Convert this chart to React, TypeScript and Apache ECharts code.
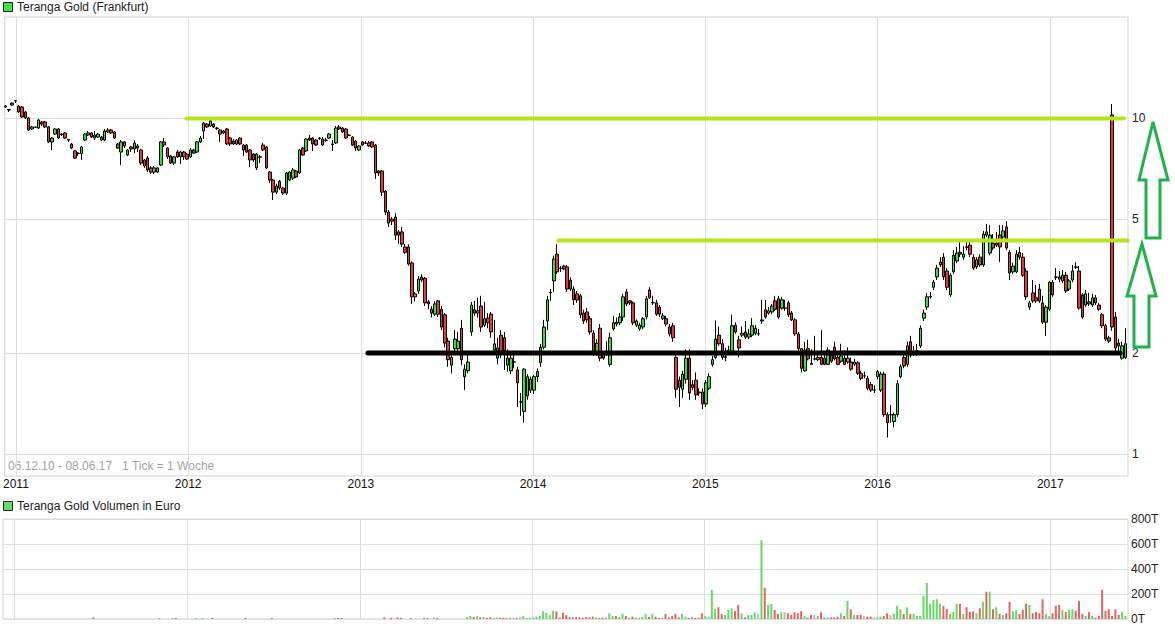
import React, { useEffect, useRef } from "react";
import * as echarts from "echarts";

// Weekly candles, each [open, close, low, high] in EUR
const ohlc2011 = [
  [10.89,10.81,10.74,10.96],[10.63,10.59,10.45,10.67],[11.11,10.96,10.92,11.15],[11.30,11.27,11.11,11.34],
  [10.89,10.45,10.38,10.96],[10.81,10.10,10.03,10.89],[10.45,10.03,9.96,10.52],[10.03,9.23,9.17,10.10],
  [9.30,9.43,9.23,9.49],[9.40,9.43,9.36,9.45],[9.36,9.89,9.30,9.96],[9.76,9.62,9.49,9.83],
  [9.76,9.43,9.36,9.83],[9.43,8.51,8.45,9.49],[8.51,8.74,8.05,8.80],[8.98,9.30,8.92,9.36],
  [9.30,8.74,8.68,9.36],[8.98,8.95,8.86,9.05],[9.05,8.74,8.68,9.11],[8.65,8.62,8.51,8.68],
  [8.39,8.16,8.11,8.45],[8.00,7.62,7.57,8.05],[7.88,7.86,7.73,7.94],[7.86,8.22,7.52,8.28],
  [8.62,8.98,8.56,9.05],[8.92,9.05,8.86,9.17],[9.05,8.80,8.74,9.11],[8.92,8.74,8.62,9.17],
  [8.80,8.98,8.74,9.05],[8.80,8.62,8.56,8.86],[8.62,9.17,8.56,9.30],[9.11,9.23,9.05,9.36],
  [9.23,9.05,8.98,9.30],[9.11,8.74,8.68,9.17],[8.39,8.16,8.11,8.45],[7.94,8.51,7.26,8.62],
  [8.51,8.28,8.16,8.56],[7.78,8.05,7.73,8.11],[8.22,8.11,7.94,8.28],[8.11,8.45,7.88,8.62],
  [8.28,8.16,7.94,8.39],[8.05,7.36,7.26,8.11],[7.52,7.21,7.12,7.57],[7.62,7.02,6.92,7.73],
  [7.12,6.92,6.83,7.21],[6.92,7.12,6.83,7.21],[6.92,7.12,6.88,7.16],[7.26,8.51,7.21,8.56],
  [8.51,8.33,8.22,8.74],[8.16,7.68,7.57,8.22],[7.73,7.36,7.31,7.78],[7.36,7.68,7.26,7.73],
  [7.94,7.68,7.62,8.05],[7.68,7.94,7.31,8.00],[7.94,7.68,7.52,8.00],[7.83,7.57,7.52,7.88],
];
const ohlc2012 = [
  [7.68,8.05,7.62,8.16],[8.05,7.88,7.83,8.11],[7.94,8.51,7.88,8.56],[8.51,8.74,8.45,8.86],
  [9.17,9.68,8.68,9.76],[9.62,9.43,9.36,9.68],[9.49,9.83,9.43,9.96],[9.62,9.43,9.36,9.68],
  [9.36,9.33,9.23,9.43],[9.23,8.98,8.51,9.30],[9.05,9.17,8.98,9.23],[9.30,8.39,8.33,9.36],
  [8.74,8.39,8.28,8.80],[8.56,8.39,8.33,8.68],[8.39,8.62,8.33,8.68],[8.74,8.39,8.33,8.80],
  [8.33,8.05,7.73,8.39],[8.33,7.94,7.88,8.39],[8.05,7.52,7.16,8.11],[7.83,7.52,7.42,7.88],
  [7.12,7.83,7.02,7.88],[7.68,7.66,7.36,7.78],[8.33,8.05,8.00,8.45],[8.22,7.12,7.07,8.28],
  [6.92,6.55,6.42,6.97],[6.55,6.03,5.71,6.60],[6.03,6.29,5.95,6.38],[6.50,6.20,6.12,6.55],
  [6.20,5.99,5.91,6.25],[5.99,6.88,5.91,6.92],[6.55,6.92,6.50,6.97],[6.64,7.02,6.55,7.12],
  [6.97,6.69,6.64,7.02],[6.88,8.05,6.83,8.11],[8.16,7.78,7.73,8.22],[8.00,8.68,7.94,8.74],
  [8.74,8.62,8.56,8.92],[8.74,8.39,8.00,8.80],[8.62,8.33,8.28,8.68],[8.74,8.71,8.62,8.80],
  [8.68,8.33,8.28,8.80],[8.62,8.60,8.51,8.74],[8.74,8.98,8.68,9.05],[8.39,8.36,8.00,8.62],
  [8.45,9.36,8.39,9.49],[9.43,9.30,9.23,9.55],[9.36,9.11,9.05,9.43],[9.30,8.74,8.68,9.36],
  [8.92,8.90,8.86,8.98],[8.80,8.33,8.28,8.86],[8.56,8.16,8.00,8.62],[8.05,8.28,8.00,8.33],
];
const ohlc2013 = [
  [8.51,8.33,8.28,8.56],[8.45,8.43,8.39,8.56],[8.45,8.28,8.22,8.56],[8.51,8.22,8.16,8.56],
  [8.33,6.88,6.60,8.39],[6.97,6.88,6.74,7.02],[6.97,6.03,5.87,7.02],[6.07,5.26,5.15,6.12],
  [5.26,4.88,4.75,5.33],[5.01,4.94,4.81,5.08],[5.08,4.49,4.34,5.22],[4.59,4.49,4.22,4.65],
  [4.59,4.22,4.14,4.75],[4.14,3.99,3.94,4.22],[4.14,3.68,3.64,4.22],[3.71,2.94,2.80,3.75],
  [2.94,3.00,2.85,3.04],[3.06,3.32,3.00,3.39],[3.37,3.30,3.25,3.43],[3.34,2.82,2.76,3.37],
  [2.84,2.80,2.70,2.88],[2.70,2.63,2.55,2.76],[2.61,2.80,2.58,2.85],[2.86,2.61,2.56,2.88],
  [2.70,2.39,2.34,2.76],[2.60,2.14,2.08,2.63],[2.17,1.91,1.82,2.22],[1.84,1.94,1.74,2.01],
  [2.06,2.20,2.01,2.34],[2.06,2.17,2.03,2.31],[2.37,1.91,1.84,2.51],[1.70,1.79,1.55,1.85],
  [1.77,1.88,1.74,2.00],[2.31,2.78,2.25,2.84],[2.69,2.63,2.58,2.86],[2.63,2.67,2.55,2.92],
  [2.76,2.39,2.31,2.96],[2.42,2.53,2.39,2.84],[2.54,2.46,2.37,2.63],[2.61,2.31,2.22,2.65],
  [2.04,2.13,1.99,2.51],[1.93,2.07,1.85,2.22],[2.26,2.00,1.93,2.34],[2.22,2.03,1.78,2.31],
  [1.84,1.93,1.76,2.05],[1.77,1.93,1.73,2.00],[1.88,1.88,1.80,2.03],[1.78,1.63,1.38,1.82],
  [1.43,1.43,1.30,1.52],[1.34,1.79,1.24,1.80],[1.49,1.70,1.45,1.73],[1.55,1.67,1.52,1.70],
];
const ohlc2014 = [
  [1.55,1.70,1.51,1.72],[1.70,1.76,1.64,1.80],[1.87,2.08,1.82,2.13],[2.08,2.39,2.05,2.51],
  [2.49,2.88,2.34,2.96],[3.02,3.03,2.86,3.10],[3.28,3.81,3.04,3.90],[3.94,3.49,3.44,4.22],
  [3.57,3.58,3.49,3.64],[3.63,3.56,3.53,3.66],[3.61,3.10,3.04,3.66],[3.30,3.10,3.06,3.36],
  [3.10,2.88,2.78,3.16],[3.00,2.88,2.82,3.06],[2.96,2.60,2.54,3.00],[2.63,2.49,2.44,2.69],
  [2.65,2.51,2.46,2.72],[2.53,2.31,2.27,2.58],[2.29,2.00,1.96,2.34],[2.00,2.14,1.96,2.20],
  [2.37,1.93,1.89,2.44],[1.99,1.93,1.91,2.02],[2.00,2.00,1.96,2.17],[1.85,2.22,1.82,2.30],
  [2.36,2.46,2.33,2.58],[2.47,2.44,2.40,2.55],[2.46,2.56,2.42,2.63],[2.56,2.94,2.49,3.00],
  [3.04,2.80,2.76,3.10],[2.86,2.82,2.78,2.88],[2.82,2.46,2.42,2.85],[2.42,2.49,2.39,2.52],
  [2.36,2.42,2.33,2.46],[2.39,2.53,2.35,2.56],[2.56,2.90,2.52,2.96],[3.08,2.92,2.90,3.14],
  [2.82,2.83,2.78,2.96],[2.82,2.61,2.58,2.88],[2.74,2.61,2.56,2.78],[2.53,2.58,2.51,2.63],
  [2.53,2.44,2.40,2.58],[2.39,2.28,2.24,2.44],[2.41,2.22,2.16,2.46],[1.94,1.56,1.47,2.01],
  [1.66,1.58,1.38,1.70],[1.56,1.73,1.47,1.77],[1.67,1.93,1.62,2.05],[1.93,1.52,1.45,2.05],
  [1.61,1.58,1.55,1.66],[1.66,1.50,1.45,1.75],[1.52,1.53,1.49,1.57],[1.53,1.41,1.36,1.57],
];
const ohlc2015 = [
  [1.41,1.63,1.38,1.66],[1.57,1.70,1.55,1.74],[1.85,1.91,1.82,1.96],[1.94,2.20,1.92,2.50],
  [2.26,2.13,2.10,2.40],[2.13,1.94,1.91,2.20],[1.94,1.95,1.89,2.07],[2.01,2.04,1.97,2.10],
  [2.01,2.41,1.99,2.60],[2.42,2.31,2.28,2.47],[2.19,2.07,1.94,2.25],[2.26,2.29,2.23,2.40],
  [2.31,2.23,2.20,2.49],[2.23,2.28,2.20,2.36],[2.26,2.41,2.23,2.54],[2.29,2.37,2.26,2.42],
  [2.28,2.28,2.25,2.36],[2.49,2.51,2.44,2.88],[2.69,2.56,2.53,2.88],[2.63,2.67,2.60,2.74],
  [2.65,2.76,2.61,2.80],[2.86,2.70,2.67,2.96],[2.90,2.56,2.53,2.96],[2.72,2.88,2.69,2.94],
  [2.72,2.72,2.67,2.88],[2.82,2.60,2.56,2.86],[2.63,2.51,2.49,2.67],[2.51,2.28,2.25,2.54],
  [2.28,2.06,2.03,2.31],[2.06,1.80,1.75,2.07],[1.77,2.04,1.76,2.16],[2.06,1.92,1.90,2.19],
  [1.86,1.85,1.84,2.05],[1.92,1.92,1.90,2.25],[1.91,1.94,1.89,2.01],[1.94,1.85,1.84,2.34],
  [1.93,1.85,1.84,1.97],[1.85,2.04,1.84,2.08],[1.97,1.89,1.87,2.01],[2.08,1.92,1.90,2.16],
  [1.94,1.85,1.84,1.99],[1.89,1.96,1.87,2.13],[1.93,1.85,1.84,2.04],[1.88,1.93,1.86,2.08],
  [1.88,1.79,1.77,1.94],[1.85,1.88,1.83,1.92],[1.87,1.74,1.72,1.89],[1.74,1.68,1.66,1.77],
  [1.71,1.71,1.68,1.76],[1.68,1.57,1.55,1.71],[1.61,1.55,1.53,1.64],[1.55,1.55,1.52,1.60],
];
const ohlc2016 = [
  [1.70,1.76,1.67,1.78],[1.55,1.73,1.53,1.76],[1.73,1.31,1.29,1.76],[1.31,1.24,1.12,1.33],
  [1.31,1.31,1.24,1.40],[1.25,1.31,1.20,1.33],[1.31,1.62,1.29,1.66],[1.70,1.82,1.68,1.85],
  [1.94,1.83,1.80,1.99],[1.85,2.10,1.82,2.16],[2.16,1.97,1.94,2.25],[2.01,2.02,1.96,2.10],
  [2.00,2.03,1.96,2.13],[2.10,2.37,2.07,2.42],[2.54,2.63,2.49,2.69],[2.74,2.94,2.69,3.02],
  [2.94,2.95,2.90,3.04],[3.14,3.25,3.08,3.30],[3.37,3.58,3.30,3.66],[3.66,3.73,3.61,3.86],
  [3.86,3.37,3.30,3.97],[3.51,3.14,3.08,3.58],[2.98,3.41,2.94,3.46],[3.49,3.91,3.44,4.05],
  [3.76,3.97,3.71,4.14],[3.99,3.94,3.86,4.34],[3.86,3.94,3.79,4.16],[4.14,4.13,4.05,4.34],
  [4.19,3.94,3.86,4.34],[3.86,3.58,3.53,3.94],[3.61,3.79,3.56,3.86],[3.86,3.66,3.61,3.94],
  [3.66,4.52,3.61,4.62],[4.59,4.49,4.43,4.85],[3.97,4.49,3.91,4.81],[4.25,4.11,4.05,4.52],
  [4.19,4.25,4.14,4.59],[4.49,4.14,3.73,4.81],[4.43,4.62,4.34,4.81],[4.75,4.11,4.05,4.94],
  [3.99,3.46,3.30,4.05],[3.49,3.63,3.44,3.71],[3.49,3.94,3.46,4.05],[3.99,3.86,3.79,4.14],
  [3.86,3.41,3.37,3.97],[3.51,2.94,2.88,3.58],[2.74,2.82,2.69,2.86],[3.02,2.86,2.82,3.30],
  [2.92,2.86,2.82,3.19],[3.10,2.86,2.82,3.21],[2.82,2.47,2.44,2.96],[2.47,2.74,2.25,2.78],
];
const ohlc2017 = [
  [2.70,3.25,2.67,3.28],[3.25,2.98,2.94,3.30],[3.37,3.36,3.30,3.58],[3.37,3.32,3.25,3.51],
  [3.28,3.41,3.23,3.53],[3.41,3.06,3.02,3.49],[3.10,3.28,3.06,3.32],[3.30,3.51,3.25,3.66],
  [3.61,3.60,3.56,3.73],[3.51,2.72,2.69,3.63],[2.98,2.56,2.53,3.02],[2.78,3.00,2.74,3.08],
  [2.84,2.80,2.76,3.02],[2.78,2.92,2.74,3.00],[2.92,2.82,2.78,2.98],[2.78,2.70,2.67,2.82],
  [2.60,2.41,2.37,2.63],[2.41,2.20,2.17,2.44],[2.22,2.17,2.14,2.25],[10.24,2.39,2.33,11.04],
  [2.56,2.07,2.01,2.65],[2.14,2.10,1.97,2.20],[1.93,2.10,1.91,2.16],[1.94,2.13,1.92,2.37],
];

// Weekly turnover in thousand euro (T)
const vol2011 = [
  0,0,0,0,0,0,0,0,0,0, 0,0,0,0,0,0,0,0,0,0, 0,0,0,0,0,0,0,13,0,0,
  0,0,0,0,0,0,0,0,0,0, 0,0,0,0,0,0,0,8,0,0, 0,8,8,0,0,0,
];
const vol2012 = [
  0,0,8,0,8,0,0,8,0,0, 0,0,0,0,0,0,0,8,0,0, 0,0,0,0,0,8,0,0,0,0,
  0,0,0,0,0,0,0,0,0,0, 0,0,0,0,8,8,8,0,0,0, 0,0,
];
const vol2013 = [
  0,0,0,0,0,0,0,13,0,10, 0,13,10,0,0,8,0,0,0,10, 8,0,13,10,0,0,0,0,0,0,
  0,0,16,24,16,24,13,16,10,13, 8,13,10,10,8,10,8,8,13,24, 8,10,
];
const vol2014 = [
  13,18,24,63,50,30,66,60,15,52, 31,15,13,15,13,10,16,13,19,13, 8,10,13,46,24,24,16,40,24,8,
  19,13,10,16,40,16,40,19,8,10, 40,13,24,40,13,40,19,10,13,8, 13,46,
];
const vol2015 = [
  24,19,234,80,94,40,32,73,86,65, 113,46,13,32,32,54,40,630,250,113, 121,73,40,54,54,46,32,54,46,62,
  24,11,32,32,24,54,11,13,13,13, 19,46,24,145,78,32,32,32,24,19, 19,13,
];
const vol2016 = [
  13,19,24,46,32,40,105,78,40,94, 40,40,24,24,186,288,121,153,159,121, 105,78,40,56,121,121,40,94,56,62,
  46,86,137,218,218,78,94,40,32,46, 137,62,70,40,73,121,113,46,56,46, 159,40,
];
const vol2017 = [
  24,46,105,113,73,56,73,78,65,145, 40,24,56,24,11,24,234,65,78,24, 78,32,56,24,
];

const yearTicks = [2011, 2012, 2013, 2014, 2015, 2016, 2017];
const priceTicks = [1, 2, 5, 10];
const volumeTicks = [0, 200, 400, 600, 800];

// Drawn support / resistance levels
const levels = [
  { from: "2011-12-28", to: "2017-06-06", value: 10, color: "#b5e61d", width: 4 },
  { from: "2014-02-24", to: "2017-06-14", value: 4.33, color: "#b5e61d", width: 4 },
  { from: "2013-01-16", to: "2017-05-29", value: 2.0, color: "#000000", width: 5 },
];

const TITLE = "Teranga Gold (Frankfurt)";
const RANGE_TEXT = "06.12.10 - 08.06.17   1 Tick = 1 Woche";
const VOL_TITLE = "Teranga Gold Volumen in Euro";

const DAY = 864e5;
const WEEK = 7 * DAY;
const FIRST_BAR = Date.UTC(2010, 11, 10);
const X_MIN = Date.UTC(2010, 11, 8, 2);
const X_MAX = Date.UTC(2017, 5, 14, 16);
const FONT = "'Liberation Sans', Arial, sans-serif";

const candles = [...ohlc2011, ...ohlc2012, ...ohlc2013, ...ohlc2014, ...ohlc2015, ...ohlc2016, ...ohlc2017];
const volumes = [...vol2011, ...vol2012, ...vol2013, ...vol2014, ...vol2015, ...vol2016, ...vol2017];

const lg = (v: number) => Math.log10(v);

function buildOption(): any {
  const candleData = candles.map((c, i) => [FIRST_BAR + i * WEEK, lg(c[0]), lg(c[1]), lg(c[2]), lg(c[3])]);
  const volData = volumes.map((v, i) => {
    const c = candles[i];
    const col = c[1] > c[0] ? "#66d966" : c[1] < c[0] ? "#e06666" : "#bbbbbb";
    return { value: [FIRST_BAR + i * WEEK, v], itemStyle: { color: col } };
  });
  const yearVals = yearTicks.map((y) => Date.UTC(y, 0, 1));
  const priceVals = priceTicks.map(lg);
  const splitColor = "#dedede";

  const xAxisBase = (gridIndex: number, showLabel: boolean) => ({
    type: "value",
    gridIndex,
    min: X_MIN,
    max: X_MAX,
    axisLine: { show: false },
    axisTick: { show: false, customValues: yearVals },
    axisLabel: {
      show: showLabel,
      customValues: yearVals,
      formatter: (v: number) => String(new Date(v + DAY).getUTCFullYear()),
      color: "#111",
      fontSize: 12,
      fontFamily: FONT,
      margin: 2,
    },
    splitLine: { show: true, lineStyle: { color: splitColor, width: 1 } },
  });

  const levelSeries = levels.map((l) => ({
    type: "line",
    xAxisIndex: 0,
    yAxisIndex: 0,
    data: [
      [Date.parse(l.from), lg(l.value)],
      [Date.parse(l.to), lg(l.value)],
    ],
    showSymbol: false,
    symbol: "none",
    silent: true,
    z: 5,
    lineStyle: { color: l.color, width: l.width, cap: "round" },
  }));

  const arrowStyle = { fill: "none", stroke: "#22b14c", lineWidth: 3, lineJoin: "miter" };

  return {
    animation: false,
    backgroundColor: "#ffffff",
    textStyle: { fontFamily: FONT },
    grid: [
      { left: 3, top: 17, width: 1125, height: 459, show: true, borderColor: "#d4d4d4", borderWidth: 1 },
      { left: 3, top: 519, width: 1125, height: 100, show: true, borderColor: "#d4d4d4", borderWidth: 1 },
    ],
    xAxis: [xAxisBase(0, true), xAxisBase(1, false)],
    yAxis: [
      {
        type: "value",
        gridIndex: 0,
        position: "right",
        min: lg(0.86),
        max: lg(20.05),
        axisLine: { show: false },
        axisTick: { show: false, customValues: priceVals },
        axisLabel: {
          customValues: priceVals,
          formatter: (v: number) => String(Math.round(Math.pow(10, v))),
          color: "#222",
          fontSize: 12,
          fontFamily: FONT,
          margin: 4,
        },
        splitLine: { show: true, lineStyle: { color: splitColor, width: 1 } },
      },
      {
        type: "value",
        gridIndex: 1,
        position: "right",
        min: 0,
        max: 800,
        interval: 200,
        axisLine: { show: false },
        axisTick: { show: false },
        axisLabel: {
          formatter: (v: number) => v + "T",
          color: "#222",
          fontSize: 12,
          fontFamily: FONT,
          margin: 3,
        },
        splitLine: { show: true, lineStyle: { color: splitColor, width: 1 } },
      },
    ],
    series: [
      {
        type: "candlestick",
        xAxisIndex: 0,
        yAxisIndex: 0,
        data: candleData,
        encode: { x: 0, y: [1, 2, 3, 4] },
        barWidth: 3,
        itemStyle: {
          color: "#33e033",
          color0: "#e6393a",
          borderColor: "#000000",
          borderColor0: "#000000",
          borderColorDoji: "#000000",
          borderWidth: 1,
        },
        z: 3,
      },
      ...levelSeries,
      {
        type: "bar",
        xAxisIndex: 1,
        yAxisIndex: 1,
        data: volData,
        barWidth: 2,
      },
    ],
    graphic: [
      { type: "rect", shape: { x: 3.5, y: 2.5, width: 9, height: 9 }, style: { fill: "#3de63d", stroke: "#222", lineWidth: 1 } },
      { type: "text", x: 17, y: 7, style: { text: TITLE, fill: "#222", font: `12px ${FONT}`, verticalAlign: "middle" } },
      { type: "text", x: 8, y: 466, style: { text: RANGE_TEXT, fill: "#a3a3a3", font: `12px ${FONT}`, verticalAlign: "middle" } },
      { type: "rect", shape: { x: 3.5, y: 501.5, width: 9, height: 9 }, style: { fill: "#66dd66", stroke: "#222", lineWidth: 1 } },
      { type: "text", x: 17, y: 506, style: { text: VOL_TITLE, fill: "#222", font: `12px ${FONT}`, verticalAlign: "middle" } },
      {
        type: "polygon",
        z: 100,
        shape: { points: [[1153, 122], [1168, 180], [1160, 180], [1160, 238], [1146, 238], [1146, 180], [1139, 180]] },
        style: arrowStyle,
      },
      {
        type: "polygon",
        z: 100,
        shape: { points: [[1142, 244], [1156, 296], [1149, 296], [1149, 347], [1134, 347], [1134, 296], [1127, 296]] },
        style: arrowStyle,
      },
    ],
  };
}

export default function App() {
  const ref = useRef<HTMLDivElement>(null);
  useEffect(() => {
    if (!ref.current) return;
    const chart = echarts.init(ref.current, null, { renderer: "svg" });
    chart.setOption(buildOption());
    return () => chart.dispose();
  }, []);
  return (
    <div
      ref={ref}
      style={{ position: "absolute", left: 0, top: 0, width: 1175, height: 630, background: "#fff" }}
    />
  );
}
